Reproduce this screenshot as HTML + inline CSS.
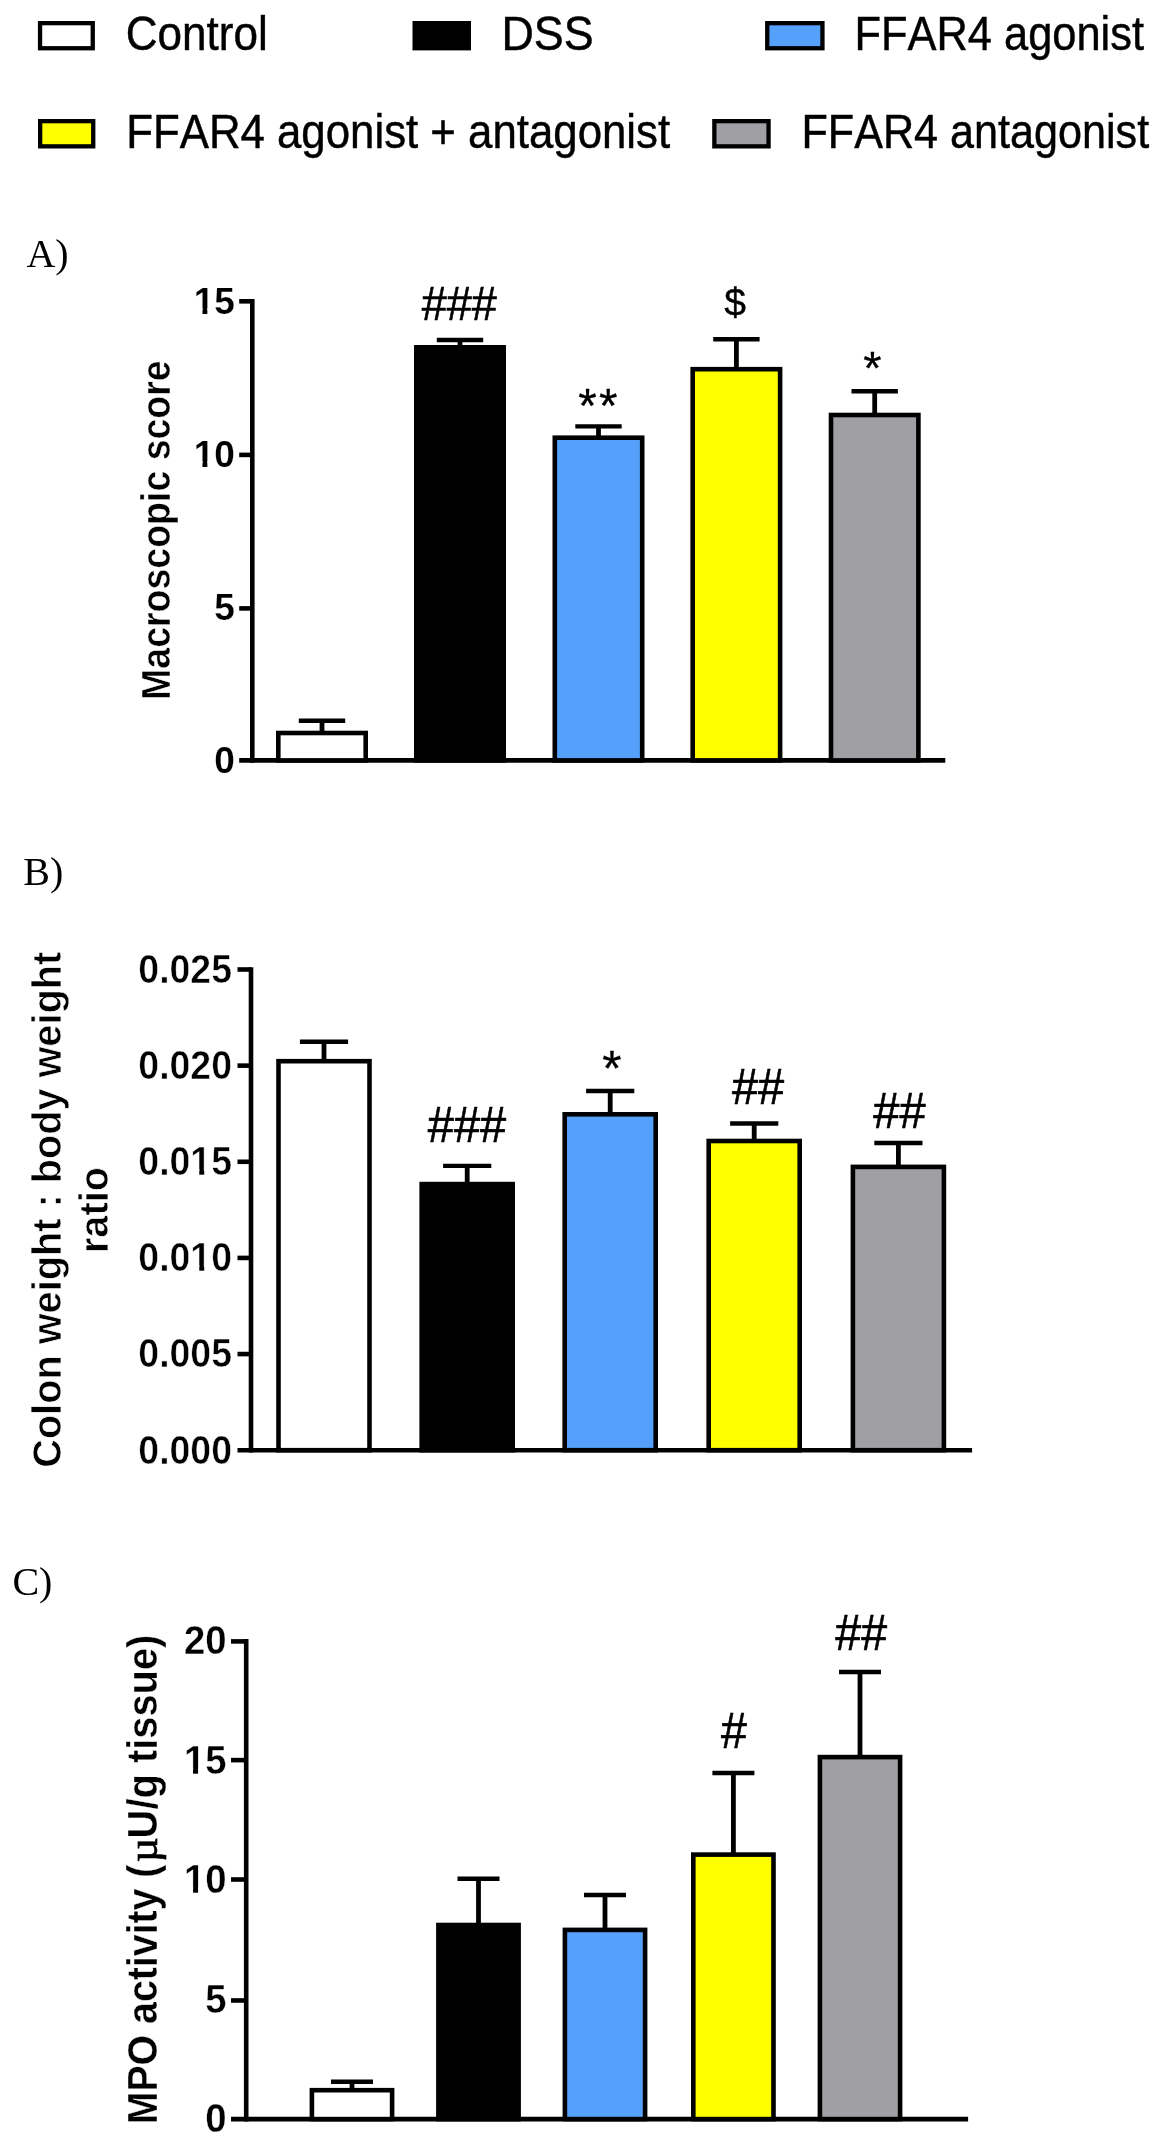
<!DOCTYPE html>
<html lang="en">
<head>
<meta charset="utf-8">
<title>FFAR4 colitis figure</title>
<style>
html,body{margin:0;padding:0;background:#fff;}
body{width:1173px;height:2146px;overflow:hidden;}
svg{display:block;will-change:transform;}
text{fill:#000;font-kerning:none;}
.r{font-family:"Liberation Sans",sans-serif;font-weight:400;}
.b{font-family:"Liberation Sans",sans-serif;font-weight:700;stroke:#fff;stroke-width:0.4px;}
.s{font-family:"Liberation Serif",serif;font-weight:400;}
</style>
</head>
<body>
<svg width="1173" height="2146" viewBox="0 0 1173 2146">
<rect x="0" y="0" width="1173" height="2146" fill="#fff"/>
<rect x="40.05" y="23.15" width="52.7" height="25.1" fill="#FFFFFF" stroke="#000" stroke-width="4.3"/>
<text class="r" transform="translate(125.8 49.6) scale(0.927 1)" font-size="47.5" text-anchor="start" stroke="#000" stroke-width="0.45">Control</text>
<rect x="414.65" y="23.15" width="54.2" height="25.1" fill="#000000" stroke="#000" stroke-width="4.3"/>
<text class="r" transform="translate(501.5 49.6) scale(0.9435 1)" font-size="47.5" text-anchor="start" stroke="#000" stroke-width="0.45">DSS</text>
<rect x="767.25" y="23.15" width="55.2" height="25.1" fill="#55A0FB" stroke="#000" stroke-width="4.3"/>
<text class="r" transform="translate(854.6 49.8) scale(0.9135 1)" font-size="47.5" text-anchor="start" stroke="#000" stroke-width="0.45">FFAR4 agonist</text>
<rect x="40.15" y="121.15" width="53.1" height="25.2" fill="#FFFF00" stroke="#000" stroke-width="4.3"/>
<text class="r" transform="translate(126.2 147.8) scale(0.922 1)" font-size="47.5" text-anchor="start" stroke="#000" stroke-width="0.45">FFAR4 agonist + antagonist</text>
<rect x="714.35" y="121.15" width="54.2" height="25.2" fill="#A0A0A4" stroke="#000" stroke-width="4.3"/>
<text class="r" transform="translate(801.5 147.8) scale(0.9084 1)" font-size="47.5" text-anchor="start" stroke="#000" stroke-width="0.45">FFAR4 antagonist</text>
<text class="s" transform="translate(26.4 266.7)" font-size="40" text-anchor="start">A)</text>
<text class="s" transform="translate(23.2 885.4)" font-size="40" text-anchor="start">B)</text>
<text class="s" transform="translate(12.4 1595.4)" font-size="40" text-anchor="start">C)</text>
<line x1="252.3" y1="299.1" x2="252.3" y2="762.7" stroke="#000" stroke-width="4.6"/>
<line x1="239.2" y1="760.4" x2="945.3" y2="760.4" stroke="#000" stroke-width="4.6"/>
<line x1="239.2" y1="301.3" x2="252.3" y2="301.3" stroke="#000" stroke-width="4.6"/>
<g transform="translate(234.8 313.8) scale(1.0000 1)">
<text class="b" font-size="37" text-anchor="end" style="stroke-width:0.15px">15</text>
<rect x="-40.43" y="-5.57" width="8.1" height="6.77" fill="#fff"/>
<rect x="-27.45" y="-5.57" width="7.23" height="6.77" fill="#fff"/>
</g>
<line x1="239.2" y1="454.9" x2="252.3" y2="454.9" stroke="#000" stroke-width="4.6"/>
<g transform="translate(234.8 466.8) scale(1.0000 1)">
<text class="b" font-size="37" text-anchor="end" style="stroke-width:0.15px">10</text>
<rect x="-40.43" y="-5.57" width="8.1" height="6.77" fill="#fff"/>
<rect x="-27.45" y="-5.57" width="7.23" height="6.77" fill="#fff"/>
</g>
<line x1="239.2" y1="608.4" x2="252.3" y2="608.4" stroke="#000" stroke-width="4.6"/>
<g transform="translate(234.8 619.8) scale(1.0000 1)">
<text class="b" font-size="37" text-anchor="end" style="stroke-width:0.15px">5</text>
</g>
<g transform="translate(234.8 772.8) scale(1.0000 1)">
<text class="b" font-size="37" text-anchor="end" style="stroke-width:0.15px">0</text>
</g>
<line x1="322" y1="720.8" x2="322" y2="733" stroke="#000" stroke-width="4.8"/>
<line x1="298.8" y1="720.8" x2="345.2" y2="720.8" stroke="#000" stroke-width="4.4"/>
<rect x="278.3" y="733" width="87.4" height="27.4" fill="#FFFFFF" stroke="#000" stroke-width="4.6"/>
<line x1="460" y1="340" x2="460" y2="347.3" stroke="#000" stroke-width="4.8"/>
<line x1="436.8" y1="340" x2="483.2" y2="340" stroke="#000" stroke-width="4.4"/>
<rect x="416.3" y="347.3" width="87.4" height="413.1" fill="#000000" stroke="#000" stroke-width="4.6"/>
<line x1="598.5" y1="426.4" x2="598.5" y2="437.7" stroke="#000" stroke-width="4.8"/>
<line x1="575.3" y1="426.4" x2="621.7" y2="426.4" stroke="#000" stroke-width="4.4"/>
<rect x="554.8" y="437.7" width="87.4" height="322.7" fill="#55A0FB" stroke="#000" stroke-width="4.6"/>
<line x1="736.4" y1="339.2" x2="736.4" y2="369.2" stroke="#000" stroke-width="4.8"/>
<line x1="713.2" y1="339.2" x2="759.6" y2="339.2" stroke="#000" stroke-width="4.4"/>
<rect x="692.7" y="369.2" width="87.4" height="391.2" fill="#FFFF00" stroke="#000" stroke-width="4.6"/>
<line x1="874.7" y1="391.2" x2="874.7" y2="415" stroke="#000" stroke-width="4.8"/>
<line x1="851.5" y1="391.2" x2="897.9" y2="391.2" stroke="#000" stroke-width="4.4"/>
<rect x="831" y="415" width="87.4" height="345.4" fill="#A0A0A4" stroke="#000" stroke-width="4.6"/>
<text class="r" transform="translate(459.2 320) scale(1 1.07)" font-size="45" text-anchor="middle" stroke="#000" stroke-width="0.6">###</text>
<text class="r" transform="translate(599 421.5)" font-size="47.5" text-anchor="middle" letter-spacing="2.2" stroke="#000" stroke-width="0.3">**</text>
<text class="r" transform="translate(735.2 315.9)" font-size="39" text-anchor="middle" stroke="#000" stroke-width="0.4">$</text>
<text class="r" transform="translate(872.3 384.4)" font-size="47" text-anchor="middle" stroke="#000" stroke-width="0.3">*</text>
<text class="b" transform="translate(169.5 530.1) rotate(-90) scale(0.9422 1)" font-size="39.8" text-anchor="middle" style="stroke-width:0.45px">Macroscopic score</text>
<line x1="251" y1="967.2" x2="251" y2="1452.5" stroke="#000" stroke-width="4.6"/>
<line x1="237.5" y1="1450.2" x2="972.1" y2="1450.2" stroke="#000" stroke-width="4.6"/>
<line x1="237.5" y1="969.5" x2="251" y2="969.5" stroke="#000" stroke-width="4.6"/>
<g transform="translate(232 982.91) scale(0.9284 1)">
<text class="b" font-size="40.33" text-anchor="end" style="stroke-width:0.55px">0.025</text>
</g>
<line x1="237.5" y1="1065.64" x2="251" y2="1065.64" stroke="#000" stroke-width="4.6"/>
<g transform="translate(232 1079.05) scale(0.9284 1)">
<text class="b" font-size="40.33" text-anchor="end" style="stroke-width:0.55px">0.020</text>
</g>
<line x1="237.5" y1="1161.78" x2="251" y2="1161.78" stroke="#000" stroke-width="4.6"/>
<g transform="translate(232 1175.19) scale(0.9284 1)">
<text class="b" font-size="40.33" text-anchor="end" style="stroke-width:0.55px">0.015</text>
<rect x="-43.92" y="-5.91" width="8.67" height="7.11" fill="#fff"/>
<rect x="-29.92" y="-5.91" width="7.76" height="7.11" fill="#fff"/>
</g>
<line x1="237.5" y1="1257.92" x2="251" y2="1257.92" stroke="#000" stroke-width="4.6"/>
<g transform="translate(232 1271.33) scale(0.9284 1)">
<text class="b" font-size="40.33" text-anchor="end" style="stroke-width:0.55px">0.010</text>
<rect x="-43.92" y="-5.91" width="8.67" height="7.11" fill="#fff"/>
<rect x="-29.92" y="-5.91" width="7.76" height="7.11" fill="#fff"/>
</g>
<line x1="237.5" y1="1354.06" x2="251" y2="1354.06" stroke="#000" stroke-width="4.6"/>
<g transform="translate(232 1367.47) scale(0.9284 1)">
<text class="b" font-size="40.33" text-anchor="end" style="stroke-width:0.55px">0.005</text>
</g>
<g transform="translate(232 1463.61) scale(0.9284 1)">
<text class="b" font-size="40.33" text-anchor="end" style="stroke-width:0.55px">0.000</text>
</g>
<line x1="324" y1="1041.8" x2="324" y2="1061.2" stroke="#000" stroke-width="4.8"/>
<line x1="299.9" y1="1041.8" x2="348.1" y2="1041.8" stroke="#000" stroke-width="4.4"/>
<rect x="278.5" y="1061.2" width="91" height="389" fill="#FFFFFF" stroke="#000" stroke-width="4.6"/>
<line x1="467.2" y1="1165.9" x2="467.2" y2="1184.1" stroke="#000" stroke-width="4.8"/>
<line x1="443.1" y1="1165.9" x2="491.3" y2="1165.9" stroke="#000" stroke-width="4.4"/>
<rect x="421.7" y="1184.1" width="91" height="266.1" fill="#000000" stroke="#000" stroke-width="4.6"/>
<line x1="610.2" y1="1091" x2="610.2" y2="1114.3" stroke="#000" stroke-width="4.8"/>
<line x1="586.1" y1="1091" x2="634.3" y2="1091" stroke="#000" stroke-width="4.4"/>
<rect x="564.7" y="1114.3" width="91" height="335.9" fill="#55A0FB" stroke="#000" stroke-width="4.6"/>
<line x1="754.2" y1="1123.5" x2="754.2" y2="1141" stroke="#000" stroke-width="4.8"/>
<line x1="730.1" y1="1123.5" x2="778.3" y2="1123.5" stroke="#000" stroke-width="4.4"/>
<rect x="708.7" y="1141" width="91" height="309.2" fill="#FFFF00" stroke="#000" stroke-width="4.6"/>
<line x1="898.4" y1="1143" x2="898.4" y2="1166.9" stroke="#000" stroke-width="4.8"/>
<line x1="874.3" y1="1143" x2="922.5" y2="1143" stroke="#000" stroke-width="4.4"/>
<rect x="852.9" y="1166.9" width="91" height="283.3" fill="#A0A0A4" stroke="#000" stroke-width="4.6"/>
<text class="r" transform="translate(467 1142.2) scale(1 1.07)" font-size="47" text-anchor="middle" stroke="#000" stroke-width="0.6">###</text>
<text class="r" transform="translate(611.9 1086)" font-size="49.5" text-anchor="middle" stroke="#000" stroke-width="0.3">*</text>
<text class="r" transform="translate(758.1 1103.8) scale(1 1.07)" font-size="47" text-anchor="middle" stroke="#000" stroke-width="0.6">##</text>
<text class="r" transform="translate(899.5 1127.6) scale(1 1.07)" font-size="47" text-anchor="middle" stroke="#000" stroke-width="0.6">##</text>
<text class="b" transform="translate(60.9 1209.8) rotate(-90) scale(0.973 1)" font-size="40.8" text-anchor="middle" style="stroke-width:0.7px">Colon weight : body weight</text>
<text class="b" transform="translate(107.8 1210.1) rotate(-90) scale(0.973 1)" font-size="40.8" text-anchor="middle" style="stroke-width:0.7px">ratio</text>
<line x1="246.2" y1="1638.9" x2="246.2" y2="2121.4" stroke="#000" stroke-width="4.6"/>
<line x1="231" y1="2119.1" x2="968.1" y2="2119.1" stroke="#000" stroke-width="4.6"/>
<line x1="231" y1="1641.4" x2="246.2" y2="1641.4" stroke="#000" stroke-width="4.6"/>
<g transform="translate(226.5 1654.27) scale(0.9225 1)">
<text class="b" font-size="41.51" text-anchor="end" style="stroke-width:0.35px">20</text>
</g>
<line x1="231" y1="1760.12" x2="246.2" y2="1760.12" stroke="#000" stroke-width="4.6"/>
<g transform="translate(226.5 1773.75) scale(0.9225 1)">
<text class="b" font-size="41.51" text-anchor="end" style="stroke-width:0.35px">15</text>
<rect x="-45.16" y="-6.03" width="8.87" height="7.23" fill="#fff"/>
<rect x="-30.8" y="-6.03" width="7.95" height="7.23" fill="#fff"/>
</g>
<line x1="231" y1="1879.5" x2="246.2" y2="1879.5" stroke="#000" stroke-width="4.6"/>
<g transform="translate(226.5 1893.22) scale(0.9225 1)">
<text class="b" font-size="41.51" text-anchor="end" style="stroke-width:0.35px">10</text>
<rect x="-45.16" y="-6.03" width="8.87" height="7.23" fill="#fff"/>
<rect x="-30.8" y="-6.03" width="7.95" height="7.23" fill="#fff"/>
</g>
<line x1="231" y1="2000.47" x2="246.2" y2="2000.47" stroke="#000" stroke-width="4.6"/>
<g transform="translate(226.5 2012.7) scale(0.9225 1)">
<text class="b" font-size="41.51" text-anchor="end" style="stroke-width:0.35px">5</text>
</g>
<g transform="translate(226.5 2132.17) scale(0.9225 1)">
<text class="b" font-size="41.51" text-anchor="end" style="stroke-width:0.35px">0</text>
</g>
<line x1="352" y1="2081.7" x2="352" y2="2090.2" stroke="#000" stroke-width="4.8"/>
<line x1="331" y1="2081.7" x2="373" y2="2081.7" stroke="#000" stroke-width="4.4"/>
<rect x="311.9" y="2090.2" width="80.2" height="28.9" fill="#FFFFFF" stroke="#000" stroke-width="4.6"/>
<line x1="478.5" y1="1878.8" x2="478.5" y2="1925" stroke="#000" stroke-width="4.8"/>
<line x1="457.5" y1="1878.8" x2="499.5" y2="1878.8" stroke="#000" stroke-width="4.4"/>
<rect x="438.4" y="1925" width="80.2" height="194.1" fill="#000000" stroke="#000" stroke-width="4.6"/>
<line x1="605" y1="1895" x2="605" y2="1929.9" stroke="#000" stroke-width="4.8"/>
<line x1="584" y1="1895" x2="626" y2="1895" stroke="#000" stroke-width="4.4"/>
<rect x="564.9" y="1929.9" width="80.2" height="189.2" fill="#55A0FB" stroke="#000" stroke-width="4.6"/>
<line x1="733.4" y1="1773" x2="733.4" y2="1854.6" stroke="#000" stroke-width="4.8"/>
<line x1="712.4" y1="1773" x2="754.4" y2="1773" stroke="#000" stroke-width="4.4"/>
<rect x="693.3" y="1854.6" width="80.2" height="264.5" fill="#FFFF00" stroke="#000" stroke-width="4.6"/>
<line x1="860" y1="1672" x2="860" y2="1757.1" stroke="#000" stroke-width="4.8"/>
<line x1="839" y1="1672" x2="881" y2="1672" stroke="#000" stroke-width="4.4"/>
<rect x="819.9" y="1757.1" width="80.2" height="362" fill="#A0A0A4" stroke="#000" stroke-width="4.6"/>
<text class="r" transform="translate(734 1747.5) scale(1 1.07)" font-size="46.5" text-anchor="middle" stroke="#000" stroke-width="0.6">#</text>
<text class="r" transform="translate(861.2 1649.6) scale(1 1.07)" font-size="46.5" text-anchor="middle" stroke="#000" stroke-width="0.6">##</text>
<text class="b" transform="translate(156.8 2124.3) rotate(-90) scale(0.9354 1)" font-size="42" text-anchor="start" style="stroke-width:0.35px">MPO activity (</text>
<text class="s" transform="translate(156.7 1850) rotate(-90) scale(1.0458 1)" font-size="41" text-anchor="middle" stroke="#000" stroke-width="0.7">µ</text>
<text class="b" transform="translate(156.8 1634.6) rotate(-90) scale(0.9495 1)" font-size="42" text-anchor="end" style="stroke-width:0.35px">U/g tissue)</text>
</svg>
</body>
</html>
